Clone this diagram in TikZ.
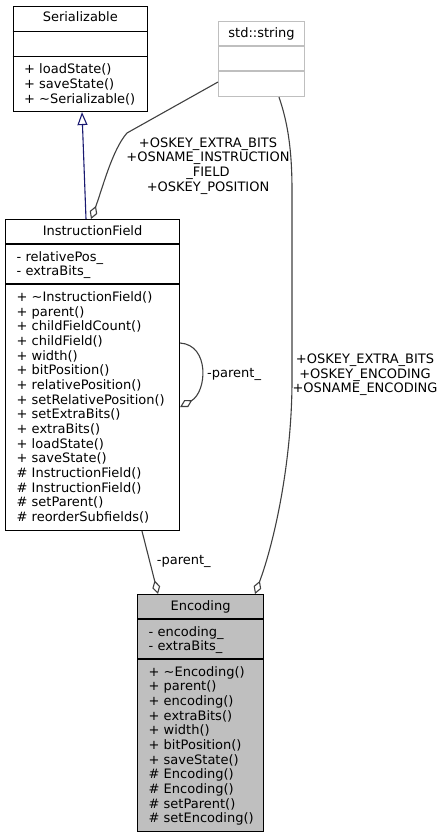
\documentclass[tikz,border=0pt]{standalone}
\usepackage{fontspec}
\setmainfont{DejaVu Sans}
\usetikzlibrary{arrows.meta}
\definecolor{edgegray}{HTML}{404040}
\definecolor{boxgray}{HTML}{BFBFBF}
\definecolor{inherit}{HTML}{191970}

\begin{document}
\begin{tikzpicture}[x=1pt,y=-1pt,
	every node/.style={font=\fontsize{13}{14.67}\selectfont,inner sep=0pt},
	classbox/.style={draw,line width=1.1pt,anchor=north west},
	member/.style={anchor=base west},
	title/.style={anchor=base},
	elabel/.style={align=center},
	rel/.style={edgegray,line width=1.1pt},
	agg/.style={rel,{Diamond[open,length=14pt,width=8pt]}-}]
	\useasboundingbox (0,0) rectangle (444,837);
	% class boxes
	\node [classbox,minimum width=134.5pt,minimum height=105pt] (serializable) at (12.5,6) {};
	\node [classbox,draw=boxgray,minimum width=86pt,minimum height=75pt] (stdstring) at (218,21) {};
	\node [classbox,minimum width=174pt,minimum height=311pt] (instrfield) at (5,219) {};
	\node [classbox,fill=boxgray,minimum width=126pt,minimum height=237pt] (encoding) at (137,594) {};
	\draw [line width=1.1pt] ([yshift=-25.5pt]serializable.north west) -- ([yshift=-25.5pt]serializable.north east);
	\draw [line width=1.1pt] ([yshift=-50.5pt]serializable.north west) -- ([yshift=-50.5pt]serializable.north east);
	\draw [line width=1.1pt,boxgray] ([yshift=-25pt]stdstring.north west) -- ([yshift=-25pt]stdstring.north east);
	\draw [line width=1.1pt,boxgray] ([yshift=-50pt]stdstring.north west) -- ([yshift=-50pt]stdstring.north east);
	\draw [line width=1.1pt] ([yshift=-25pt]instrfield.north west) -- ([yshift=-25pt]instrfield.north east);
	\draw [line width=1.1pt] ([yshift=-65pt]instrfield.north west) -- ([yshift=-65pt]instrfield.north east);
	\draw [line width=1.1pt] ([yshift=-25pt]encoding.north west) -- ([yshift=-25pt]encoding.north east);
	\draw [line width=1.1pt] ([yshift=-65pt]encoding.north west) -- ([yshift=-65pt]encoding.north east);
	% titles
	\node [title] (serializable-t) at ([yshift=-16pt]serializable.north) {Serializable};
	\node [title] (stdstring-t) at ([yshift=-16.5pt]stdstring.north) {std::string};
	\node [title] (instrfield-t) at ([yshift=-16pt]instrfield.north) {InstructionField};
	\node [title] (encoding-t) at ([yshift=-16pt]encoding.north) {Encoding};
	% members
	\foreach \m [count=\i from 0] in {+ loadState(),+ saveState(),+ \textasciitilde Serializable()}
		\node [member] (serializable-m\i) at ([xshift=11.5pt,yshift=-67.7pt-\i*14.67pt]serializable.north west) {\m};
	\foreach \m [count=\i from 0] in {- relativePos\_,- extraBits\_}
		\node [member] (instrfield-a\i) at ([xshift=11.5pt,yshift=-42.2pt-\i*14.67pt]instrfield.north west) {\m};
	\foreach \m [count=\i from 0] in {+ \textasciitilde InstructionField(),+ parent(),+ childFieldCount(),+ childField(),+ width(),+ bitPosition(),+ relativePosition(),+ setRelativePosition(),+ setExtraBits(),+ extraBits(),+ loadState(),+ saveState(),\# InstructionField(),\# InstructionField(),\# setParent(),\# reorderSubfields()}
		\node [member] (instrfield-m\i) at ([xshift=11.5pt,yshift=-82.5pt-\i*14.67pt]instrfield.north west) {\m};
	\foreach \m [count=\i from 0] in {- encoding\_,- extraBits\_}
		\node [member] (encoding-a\i) at ([xshift=11.5pt,yshift=-42.2pt-\i*14.67pt]encoding.north west) {\m};
	\foreach \m [count=\i from 0] in {+ \textasciitilde Encoding(),+ parent(),+ encoding(),+ extraBits(),+ width(),+ bitPosition(),+ saveState(),\# Encoding(),\# Encoding(),\# setParent(),\# setEncoding()}
		\node [member] (encoding-m\i) at ([xshift=11.5pt,yshift=-82.2pt-\i*14.67pt]encoding.north west) {\m};
	% relations
	\draw [rel,inherit,-{Triangle[open,length=13pt,width=10pt]}] ([xshift=81pt]instrfield.north west) -- ([xshift=69.5pt]serializable.south west);
	\draw [agg] ([xshift=86pt]instrfield.north west) .. controls (102,190) and (112,150) .. (127,133) -- ([yshift=-61pt]stdstring.north west);
	\draw [agg] ([xshift=118pt]encoding.north west) .. controls (275,540) and (292,460) .. (292,380) -- (292,190) .. controls (292,140) and (285,115) .. ([xshift=61pt]stdstring.south west);
	\draw [agg] ([yshift=-188pt]instrfield.north east) .. controls (207,392) and (210,345) .. ([yshift=-124pt]instrfield.north east);
	\draw [agg] ([xshift=21pt]encoding.north west) -- ([xshift=137pt]instrfield.south west);
	% labels
	\node [elabel] (lbl-instrfield) at (208,165.9) {+OSKEY\_EXTRA\_BITS\\+OSNAME\_INSTRUCTION\\\_FIELD\\+OSKEY\_POSITION};
	\node [elabel] (lbl-encoding) at (365,374.9) {+OSKEY\_EXTRA\_BITS\\+OSKEY\_ENCODING\\+OSNAME\_ENCODING};
	\node [member] (lbl-self) at (207,377.5) {-parent\_};
	\node [member] (lbl-parent) at (156.7,564.5) {-parent\_};
\end{tikzpicture}
\end{document}
